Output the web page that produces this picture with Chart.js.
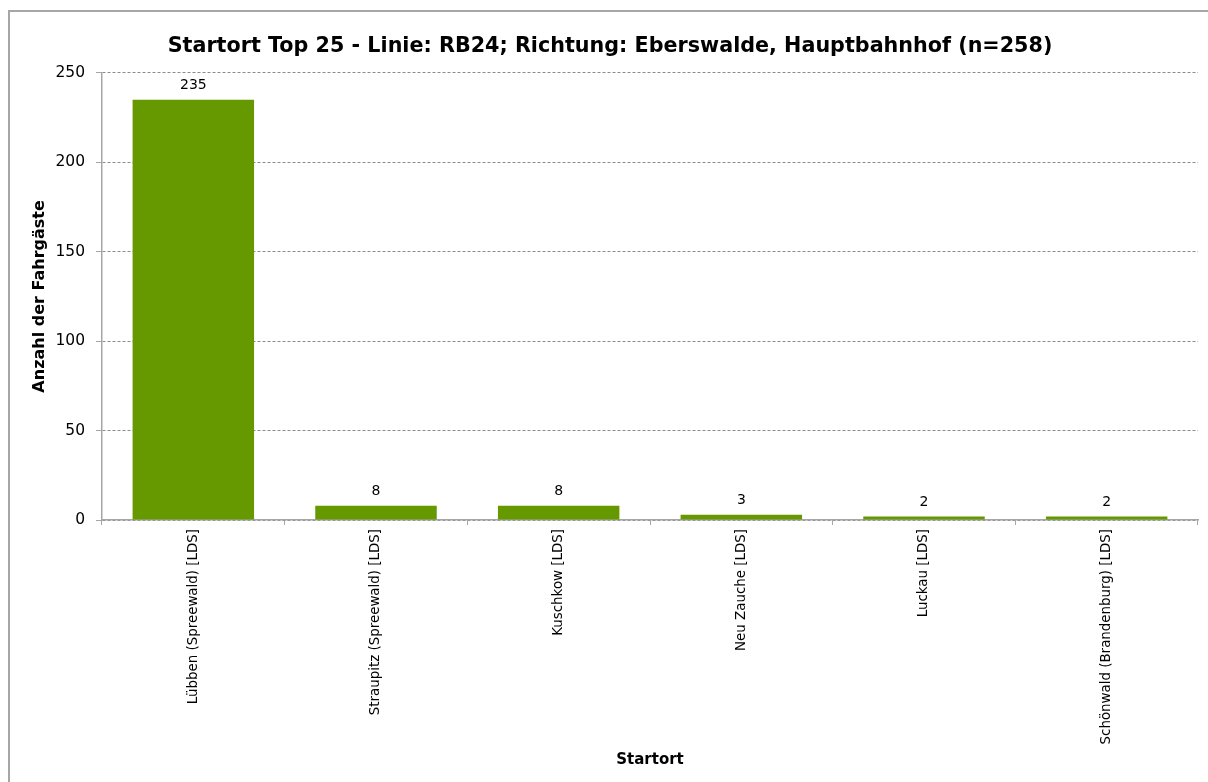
<!DOCTYPE html>
<html>
<head>
<meta charset="utf-8">
<script src="https://cdn.jsdelivr.net/npm/chart.js@4/dist/chart.umd.min.js"></script>
<style>
    body { margin: 0; background: #fff; overflow: hidden; }
    #wrap { position: relative; width: 1208px; height: 782px; }
    #frame {
        position: absolute; left: 8px; top: 10px; width: 1300px; height: 900px;
        border-left: 2px solid #a6a6a6; border-top: 2px solid #a6a6a6;
        pointer-events: none;
    }
</style>
</head>
<body>
<div id="wrap">
    <canvas id="chart"></canvas>
    <div id="frame"></div>
</div>
<script>
// --- Data ---
const categories = [
    'Lübben (Spreewald) [LDS]',
    'Straupitz (Spreewald) [LDS]',
    'Kuschkow [LDS]',
    'Neu Zauche [LDS]',
    'Luckau [LDS]',
    'Schönwald (Brandenburg) [LDS]'
];
const passengers = [235, 8, 8, 3, 2, 2];
const yTicks = [0, 50, 100, 150, 200, 250];

const FONT = '"DejaVu Sans", sans-serif';

// --- Value labels above bars ---
const valueLabels = {
    id: 'valueLabels',
    afterDatasetsDraw(chart) {
        const ctx = chart.ctx;
        const meta = chart.getDatasetMeta(0);
        ctx.save();
        ctx.font = '14px ' + FONT;
        ctx.fillStyle = '#000';
        ctx.textAlign = 'center';
        ctx.textBaseline = 'bottom';
        meta.data.forEach((bar, i) => {
            ctx.fillText(String(passengers[i]), bar.x, bar.y - 7);
        });
        ctx.restore();
    }
};

new Chart(document.getElementById('chart'), {
    type: 'bar',
    data: {
        labels: categories,
        datasets: [{
            data: passengers,
            backgroundColor: '#669900',
            borderWidth: 0,
            categoryPercentage: 1,
            barPercentage: 0.665
        }]
    },
    options: {
        responsive: true,
        maintainAspectRatio: false,
        animation: false,
        layout: { padding: { top: 0, right: 10, bottom: 0, left: 22 } },
        plugins: {
            legend: { display: false },
            tooltip: { enabled: false },
            title: {
                display: true,
                text: 'Startort Top 25 - Linie: RB24; Richtung: Eberswalde, Hauptbahnhof (n=258)',
                color: '#000',
                font: { family: FONT, size: 20.7, weight: 'bold', lineHeight: 1.2 },
                padding: { top: 34, bottom: 14 }
            }
        },
        scales: {
            x: {
                afterFit: scale => { scale.height = 262; },
                border: { display: true, color: '#a6a6a6', width: 1.5 },
                grid: {
                    offset: true,
                    drawOnChartArea: false,
                    drawTicks: true,
                    tickLength: 5,
                    tickColor: '#a6a6a6'
                },
                ticks: {
                    color: '#000',
                    font: { family: FONT, size: 13.4 },
                    minRotation: 90,
                    maxRotation: 90,
                    autoSkip: false,
                    padding: 4
                },
                title: {
                    display: true,
                    text: 'Startort',
                    color: '#000',
                    font: { family: FONT, size: 15, weight: 'bold', lineHeight: 1.2 },
                    padding: { top: 13, bottom: 13 }
                }
            },
            y: {
                min: 0,
                max: 250,
                afterFit: scale => { scale.width = 80; },
                afterBuildTicks: scale => {
                    scale.ticks = yTicks.map(v => ({ value: v }));
                },
                border: { display: true, color: '#a6a6a6', width: 1.5, dash: [3, 2] },
                grid: {
                    color: '#8c8c8c',
                    lineWidth: 1,
                    drawTicks: true,
                    tickLength: 6,
                    tickColor: '#a6a6a6',
                    tickBorderDash: []
                },
                ticks: {
                    color: '#000',
                    font: { family: FONT, size: 15.5 },
                    padding: 11
                },
                title: {
                    display: true,
                    text: 'Anzahl der Fahrgäste',
                    color: '#000',
                    font: { family: FONT, size: 16, weight: 'bold', lineHeight: 1.2 },
                    padding: { top: 8, bottom: 8 }
                }
            }
        }
    },
    plugins: [valueLabels]
});
</script>
</body>
</html>
